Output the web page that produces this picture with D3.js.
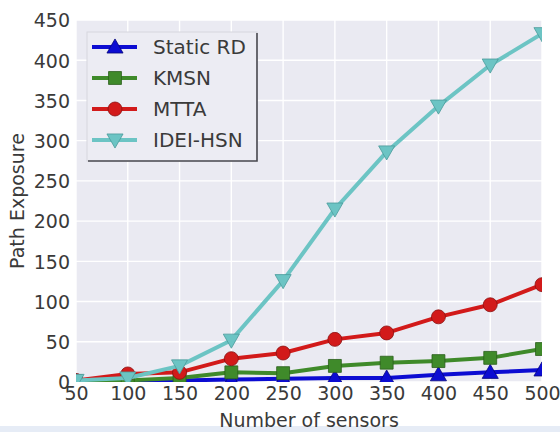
<!DOCTYPE html>
<html>
<head>
<meta charset="utf-8">
<script src="https://cdn.jsdelivr.net/npm/d3@7"></script>
<style>
  html, body { margin: 0; padding: 0; background: #ffffff; }
  svg { display: block; font-family: "DejaVu Sans", sans-serif; }
</style>
</head>
<body>
<svg id="chart" width="560" height="432"></svg>
<script>
// Number of sensors on the x axis
const sensors = [50, 100, 150, 200, 250, 300, 350, 400, 450, 500];

// Path exposure per method
const staticRD = [0.5, 1, 2, 3, 4, 5, 5, 9, 12, 15];
const kmsn     = [1, 2, 5, 12, 11, 20, 24, 26, 30, 41];
const mtta     = [2, 10, 12, 29, 36, 53, 61, 81, 96, 121];
const ideiHsn  = [2, 5, 20, 52, 126, 215, 286, 343, 394, 433];

const xTicks = [50, 100, 150, 200, 250, 300, 350, 400, 450, 500];
const yTicks = [0, 50, 100, 150, 200, 250, 300, 350, 400, 450];

const seriesNames = ["Static RD", "KMSN", "MTTA", "IDEI-HSN"];
const seriesValues = [staticRD, kmsn, mtta, ideiHsn];
const seriesColors = ["#0c0cd2", "#3f8a2a", "#d21a1a", "#6cc4c4"];
const seriesEdges  = ["#06067a", "#2b5e1c", "#8a1010", "#4a9a9a"];
const seriesMarkers = ["triUp", "square", "circle", "triDown"];

const svg = d3.select("#chart");
const margin = { left: 76, right: 18, top: 20, bottom: 50 };
const W = 560, H = 432;
const iw = W - margin.left - margin.right;
const ih = H - margin.top - margin.bottom;

const x = d3.scaleLinear().domain([50, 500]).range([0, iw]);
const y = d3.scaleLinear().domain([0, 450]).range([ih, 0]);

const textColor = "#3a3a3a";

// faint band along the bottom edge
svg.append("rect").attr("x", 0).attr("y", 426).attr("width", W).attr("height", 6)
  .attr("fill", "#e6ecf6");

const g = svg.append("g").attr("transform", `translate(${margin.left},${margin.top})`);

// plot background
g.append("rect").attr("width", iw).attr("height", ih).attr("fill", "#eaeaf2");

// grid lines
g.append("g").selectAll("line").data(xTicks).join("line")
  .attr("x1", d => x(d)).attr("x2", d => x(d))
  .attr("y1", 0).attr("y2", ih)
  .attr("stroke", "#ffffff").attr("stroke-width", 1.4);
g.append("g").selectAll("line").data(yTicks).join("line")
  .attr("y1", d => y(d)).attr("y2", d => y(d))
  .attr("x1", 0).attr("x2", iw)
  .attr("stroke", "#ffffff").attr("stroke-width", 1.4);

// axes (labels only, no domain line or tick marks)
const xAxis = g.append("g").attr("transform", `translate(0,${ih})`)
  .call(d3.axisBottom(x).tickValues(xTicks).tickSize(0).tickPadding(4).tickFormat(d3.format("d")));
const yAxis = g.append("g")
  .call(d3.axisLeft(y).tickValues(yTicks).tickSize(0).tickPadding(6).tickFormat(d3.format("d")));
[xAxis, yAxis].forEach(a => {
  a.select(".domain").remove();
  a.selectAll("text").attr("fill", textColor).style("font-size", "19px")
    .style("font-family", "'DejaVu Sans', sans-serif");
});
xAxis.selectAll("text").attr("dy", "0.72em");
yAxis.selectAll("text").attr("dy", "0.36em");

// axis titles
svg.append("text").attr("x", margin.left + iw / 2).attr("y", 427)
  .attr("text-anchor", "middle").attr("fill", textColor).style("font-size", "19px")
  .text("Number of sensors");
svg.append("text")
  .attr("transform", `translate(24,${margin.top + ih / 2}) rotate(-90)`)
  .attr("text-anchor", "middle").attr("fill", textColor).style("font-size", "19px")
  .text("Path Exposure");

// clip series to the plot area
svg.append("defs").append("clipPath").attr("id", "plotClip")
  .append("rect").attr("width", iw).attr("height", ih);

function markerPath(type, s) {
  if (type === "circle") return d3.symbol(d3.symbolCircle, Math.PI * s * s)();
  if (type === "square") return d3.symbol(d3.symbolSquare, 4 * s * s * 0.85)();
  const h = s * 1.15;
  if (type === "triUp") return `M0,${-h}L${h * 1.0},${h * 0.75}L${-h * 1.0},${h * 0.75}Z`;
  return `M0,${h}L${h * 1.0},${-h * 0.75}L${-h * 1.0},${-h * 0.75}Z`;
}

const line = d3.line().x(d => x(d[0])).y(d => y(d[1]));
const plot = g.append("g").attr("clip-path", "url(#plotClip)");

seriesValues.forEach((vals, i) => {
  const pts = sensors.map((s, k) => [s, vals[k]]);
  const sg = plot.append("g");
  sg.append("path").datum(pts).attr("d", line)
    .attr("fill", "none").attr("stroke", seriesColors[i]).attr("stroke-width", 4)
    .attr("stroke-linejoin", "round");
  sg.selectAll("path.m").data(pts).join("path").attr("class", "m")
    .attr("transform", d => `translate(${x(d[0])},${y(d[1])})`)
    .attr("d", markerPath(seriesMarkers[i], 7))
    .attr("fill", seriesColors[i]).attr("stroke", seriesEdges[i]).attr("stroke-width", 0.8);
});

// legend
const lg = svg.append("g").attr("transform", "translate(87,32)");
const lw = 170, lh = 129;
lg.append("rect").attr("width", lw).attr("height", lh)
  .attr("fill", "#ececf3").attr("stroke", "#d6d6de").attr("stroke-width", 1);
lg.append("path").attr("d", `M1,${lh}H${lw}V1`)
  .attr("fill", "none").attr("stroke", "#4a4a50").attr("stroke-width", 1.6);
seriesNames.forEach((name, i) => {
  const cy = 15 + i * 31;
  const row = lg.append("g").attr("transform", `translate(0,${cy})`);
  row.append("line").attr("x1", 5).attr("x2", 50).attr("y1", 0).attr("y2", 0)
    .attr("stroke", seriesColors[i]).attr("stroke-width", 4);
  row.append("path").attr("transform", "translate(28,0)")
    .attr("d", markerPath(seriesMarkers[i], 7))
    .attr("fill", seriesColors[i]).attr("stroke", seriesEdges[i]).attr("stroke-width", 0.8);
  row.append("text").attr("x", 66).attr("y", 0).attr("dy", "0.36em")
    .attr("fill", textColor).style("font-size", "20px").text(name);
});
</script>
</body>
</html>
